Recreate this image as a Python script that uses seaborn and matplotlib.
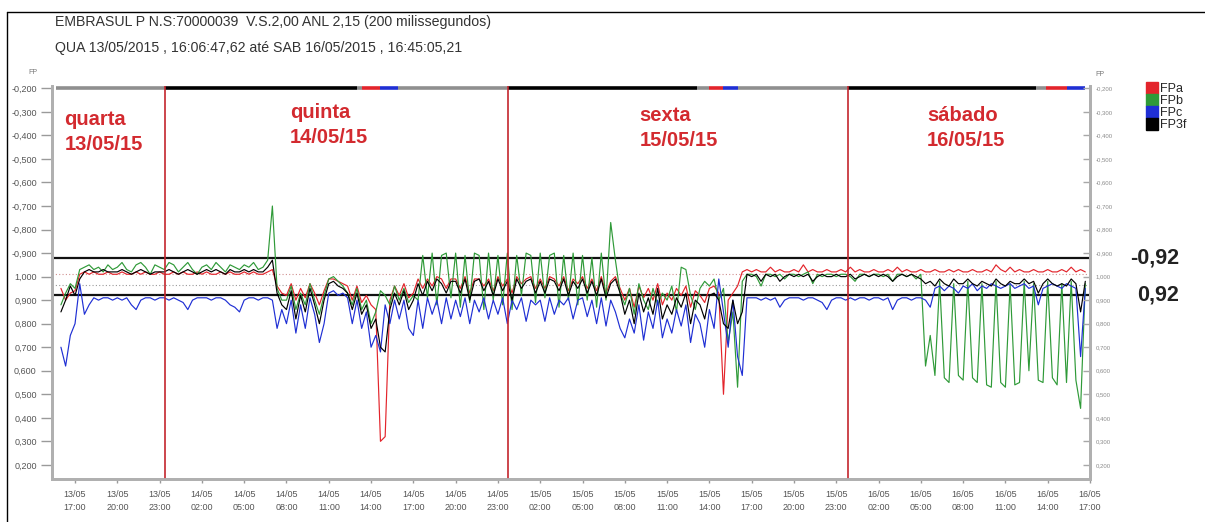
import numpy as np
import pandas as pd
import matplotlib
matplotlib.use("Agg")
import matplotlib.pyplot as plt
import matplotlib.dates as mdates
from matplotlib.lines import Line2D
import seaborn as sns

sns.set_theme(style="white")
plt.rcParams["font.family"] = ["Liberation Sans", "DejaVu Sans"]

# Records every 20 minutes from 13/05 16:00; one row = 3 hours (9 records)
START = "2015-05-13 16:00"
STEP = "20min"

# Power factor per phase (negative = capacitive / leading)
fpa = [
    0.95, 0.90, 0.93,
    0.94, -0.99, -0.98, -0.99, -0.98, -0.99, -0.99, -0.98, -0.99,
    -0.99, -0.98, -0.99, -0.99, -0.98, -0.99, -0.98, -0.99, -0.99,
    -0.98, -0.99, -0.99, -0.98, -0.99, -0.98, -0.99, -0.99, -0.98,
    -0.99, -0.98, -0.99, -0.99, -0.98, -0.99, -0.98, -0.99, -0.99,
    -0.98, -0.99, -0.98, -0.99, -0.99, -0.98, -0.97, 0.96, 0.93,
    0.92, 0.97, 0.90, 0.95, 0.91, 0.97, 0.93, 0.88, 0.94,
    0.99, 0.99, 0.98, 0.97, 0.96, 0.90, 0.96, 0.89, 0.92,
    0.88, 0.86, 0.30, 0.32, 0.90, 0.96, 0.92, 0.97, 0.91,
    0.93, 0.99, 0.95, 0.99, 0.96, 1.00, 0.99, 0.95, 0.99,
    0.99, 0.95, 1.00, 0.93, 0.99, 0.99, 0.96, 0.99, 0.94,
    1.00, 0.96, 0.99, 0.93, 1.00, 0.97, 0.99, 1.00, 0.95,
    0.99, 0.95, 1.00, 0.99, 0.96, 1.00, 0.94, 0.99, 0.97,
    1.00, 0.95, 0.99, 0.94, 1.00, 0.93, 0.98, 1.00, 0.95,
    0.90, 0.95, 0.87, 0.96, 0.91, 0.95, 0.90, 0.97, 0.88,
    0.93, 0.90, 0.95, 0.92, 0.96, 0.87, 0.94, 0.92, 0.89,
    0.95, 0.96, 0.93, 0.50, 0.90, 0.93, 0.96, -0.98, -0.97,
    -0.98, -0.97, -0.98, -0.98, -0.96, -0.98, -0.97, -0.98, -0.98,
    -0.97, -0.98, -0.95, -0.98, -0.97, -0.98, -0.98, -0.97, -0.98,
    -0.98, -0.97, -0.98, -0.96, -0.98, -0.97, -0.98, -0.98, -0.97,
    -0.98, -0.98, -0.97, -0.98, -0.96, -0.98, -0.97, -0.98, -0.98,
    -0.97, -0.98, -0.98, -0.97, -0.98, -0.98, -0.97, -0.98, -0.97,
    -0.98, -0.98, -0.97, -0.98, -0.98, -0.97, -0.98, -0.95, -0.97,
    -0.98, -0.96, -0.98, -0.97, -0.98, -0.98, -0.97, -0.98, -0.98,
    -0.97, -0.98, -0.98, -0.97, -0.98, -0.96, -0.98, -0.97, -0.98,
]

fpb = [
    0.88, 0.93, 0.97,
    0.95, -0.97, -0.96, -0.95, -0.97, -0.96, -0.98, -0.95, -0.97,
    -0.96, -0.94, -0.97, -0.98, -0.95, -0.94, -0.96, -0.99, -0.95,
    -0.96, -0.97, -0.94, -0.95, -0.98, -0.96, -0.94, -0.97, -0.99,
    -0.96, -0.95, -0.97, -0.94, -0.96, -0.98, -0.95, -0.96, -0.97,
    -0.95, -0.96, -0.94, -0.97, -0.96, -0.93, -0.70, 0.95, 0.90,
    0.90, 0.96, 0.86, 0.93, 0.88, 0.97, 0.90, 0.84, 0.92,
    0.99, 1.00, 0.98, 0.96, 0.93, 0.88, 0.95, 0.86, 0.90,
    0.80, 0.85, 0.94, 0.92, 0.88, 0.96, 0.90, 0.95, 0.89,
    0.92, 0.90, -0.91, 0.91, -0.90, 0.88, -0.91, -0.90, 0.91,
    -0.90, 0.87, -0.91, 0.89, -0.90, -0.91, 0.86, -0.90, 0.90,
    -0.91, 0.88, -0.90, 0.86, -0.91, 0.92, -0.90, -0.91, 0.89,
    -0.90, 0.91, -0.91, -0.90, 0.87, -0.91, 0.90, -0.90, 0.88,
    -0.91, 0.90, -0.92, 0.87, -0.90, 0.90, -0.77, -0.93, 0.93,
    0.88, 0.95, 0.84, 0.97, 0.90, 0.86, 0.95, 0.88, 0.93,
    0.90, 0.96, 0.85, -0.96, -0.97, 0.92, 0.86, 0.95, 0.98,
    0.96, 0.99, 0.90, 0.95, 0.72, 0.85, 0.53, 0.98, -0.99,
    -0.99, 1.00, 0.96, -0.99, -0.99, 1.00, -0.99, 0.99, -0.99,
    -0.99, 1.00, -0.99, -0.98, 0.97, -0.99, 1.00, -0.99, -0.99,
    1.00, -0.99, -0.99, 1.00, 0.98, -0.99, -0.99, 1.00, -0.99,
    -0.99, 1.00, -0.99, 0.98, -0.99, -0.99, 1.00, -0.99, 0.99,
    -0.99, 0.62, 0.75, 0.58, 0.98, 0.57, 0.55, 0.97, 0.58,
    0.56, 0.98, 0.57, 0.55, 0.97, 0.54, 0.53, 0.98, 0.55,
    0.53, 0.97, 0.54, 0.55, 0.98, 0.60, 0.97, 0.56, 0.55,
    0.98, 0.57, 0.54, 0.97, 0.55, 0.98, 0.56, 0.44, 0.97,
]

fpc = [
    0.70, 0.62, 0.75,
    0.80, 0.97, 0.84, 0.88, 0.91, 0.90, 0.91, 0.91, 0.90,
    0.91, 0.90, 0.91, 0.88, 0.86, 0.90, 0.91, 0.91, 0.90,
    0.91, 0.91, 0.90, 0.91, 0.90, 0.89, 0.86, 0.90, 0.91,
    0.91, 0.91, 0.90, 0.91, 0.91, 0.90, 0.88, 0.87, 0.85,
    0.90, 0.91, 0.91, 0.90, 0.91, 0.91, 0.90, 0.78, 0.86,
    0.80, 0.90, 0.76, 0.88, 0.78, 0.91, 0.84, 0.72, 0.80,
    0.93, 0.94, 0.92, 0.93, 0.91, 0.80, 0.90, 0.78, 0.85,
    0.70, 0.75, 0.68, 0.88, 0.80, 0.90, 0.82, 0.90, 0.78,
    0.75, 0.90, 0.78, 0.91, 0.84, 0.90, 0.80, 0.91, 0.82,
    0.90, 0.83, 0.91, 0.80, 0.90, 0.85, 0.91, 0.82, 0.90,
    0.84, 0.91, 0.80, 0.90, 0.86, 0.91, 0.81, 0.90, 0.88,
    0.90, 0.81, 0.91, 0.84, 0.90, 0.88, 0.91, 0.82, 0.90,
    0.91, 0.83, 0.90, 0.80, 0.91, 0.79, 0.90, 0.85, 0.78,
    0.74, 0.82, 0.76, 0.88, 0.73, 0.85, 0.78, 0.90, 0.74,
    0.82, 0.76, 0.86, 0.79, 0.88, 0.72, 0.84, 0.80, 0.70,
    0.86, 0.78, 0.99, 0.85, 0.70, 0.90, 0.66, 0.58, 0.91,
    0.91, 0.91, 0.90, 0.91, 0.90, 0.91, 0.87, 0.90, 0.91,
    0.91, 0.91, 0.90, 0.91, 0.91, 0.90, 0.89, 0.86, 0.90,
    0.91, 0.91, 0.90, 0.91, 0.90, 0.91, 0.91, 0.90, 0.91,
    0.91, 0.90, 0.91, 0.86, 0.90, 0.91, 0.91, 0.90, 0.91,
    0.91, 0.90, 0.87, 0.95, 0.96, 0.94, 0.96, 0.95, 0.93,
    0.96, 0.95, 0.97, 0.94, 0.96, 0.95, 0.97, 0.96, 0.95,
    0.96, 0.97, 0.95, 0.96, 0.97, 0.95, 0.96, 0.88, 0.95,
    0.96, 0.97, 0.96, 0.95, 0.97, 0.96, 0.95, 0.66, 0.95,
]

fp3f = [
    0.85, 0.90, 0.96,
    0.92, 0.99, -0.98, -0.97, -0.98, -0.98, -0.97, -0.98, -0.98,
    -0.98, -0.97, -0.98, -0.99, -0.98, -0.97, -0.98, -0.99, -0.98,
    -0.98, -0.98, -0.97, -0.98, -0.99, -0.98, -0.97, -0.98, -0.99,
    -0.98, -0.97, -0.98, -0.97, -0.98, -0.99, -0.97, -0.98, -0.98,
    -0.97, -0.98, -0.97, -0.98, -0.98, -0.96, -0.93, 0.93, 0.88,
    0.86, 0.94, 0.82, 0.92, 0.85, 0.95, 0.88, 0.80, 0.90,
    0.97, 0.98, 0.96, 0.95, 0.93, 0.86, 0.93, 0.84, 0.88,
    0.78, 0.82, 0.70, 0.68, 0.86, 0.93, 0.88, 0.94, 0.86,
    0.90, 0.97, 0.92, 0.98, 0.94, 0.99, 0.97, 0.93, 0.98,
    0.98, 0.93, 0.99, 0.90, 0.98, 0.99, 0.94, 0.98, 0.92,
    0.99, 0.94, 0.98, 0.90, 0.99, 0.95, 0.98, 0.99, 0.93,
    0.98, 0.93, 0.99, 0.98, 0.94, 0.99, 0.92, 0.98, 0.95,
    0.99, 0.93, 0.98, 0.92, 0.99, 0.91, 0.97, 0.99, 0.93,
    0.84, 0.90, 0.80, 0.93, 0.85, 0.91, 0.84, 0.95, 0.82,
    0.88, 0.84, 0.91, 0.87, 0.93, 0.80, 0.90, 0.88, 0.82,
    0.92, 0.93, 0.90, 0.80, 0.78, 0.90, 0.80, 0.85, -0.99,
    1.00, -0.99, 0.98, -0.99, 1.00, -0.99, 0.98, 1.00, -0.99,
    1.00, -0.99, 1.00, -0.99, 0.98, 1.00, -0.99, 1.00, 1.00,
    -0.99, 1.00, 1.00, -0.99, 0.99, 1.00, -0.99, 1.00, -0.99,
    1.00, -0.99, 1.00, 0.98, 1.00, -0.99, 1.00, -0.99, 1.00,
    0.99, 0.97, 0.98, 0.96, 0.99, 0.97, 0.96, 0.99, 0.97,
    0.97, 0.99, 0.97, 0.96, 0.98, 0.97, 0.96, 0.99, 0.97,
    0.96, 0.98, 0.97, 0.97, 0.99, 0.97, 0.98, 0.93, 0.97,
    0.99, 0.97, 0.96, 0.97, 0.96, 0.99, 0.97, 0.85, 0.98,
]

series_names = ["FPa", "FPb", "FPc", "FP3f"]
series_values = [fpa, fpb, fpc, fp3f]
palette = {"FPa": "#e3242b", "FPb": "#2f9a38", "FPc": "#1f2fd4", "FP3f": "#000000"}

# Status strip along the -0,200 limit: segment start, end and colour key
strip_start = ["2015-05-13 15:40", "2015-05-13 23:24", "2015-05-14 13:00", "2015-05-14 13:21",
               "2015-05-14 14:36", "2015-05-14 15:54", "2015-05-14 23:42", "2015-05-15 13:06",
               "2015-05-15 14:00", "2015-05-15 15:00", "2015-05-15 16:00", "2015-05-15 23:48",
               "2015-05-16 13:12", "2015-05-16 13:54", "2015-05-16 15:24"]
strip_end = strip_start[1:] + ["2015-05-16 16:40"]
strip_key = ["grey", "FP3f", "grey", "FPa", "FPc", "grey", "FP3f", "grey", "FPa", "FPc",
             "grey", "FP3f", "grey", "FPa", "FPc"]
strip_pf = -0.20

# Day separators and captions
day_breaks = ["2015-05-13 23:24", "2015-05-14 23:42", "2015-05-15 23:48"]
day_captions = ["quarta\n13/05/15", "quinta\n14/05/15", "sexta\n15/05/15", "sábado\n16/05/15"]
caption_xy = [(0.012, 0.940), (0.229, 0.958), (0.566, 0.950), (0.843, 0.950)]

limit_pf = [-0.92, 0.92]
limit_text = ["-0,92", "0,92"]
tick_pf = [0.2, 0.3, 0.4, 0.5, 0.6, 0.7, 0.8, 0.9, 1.0,
           -0.9, -0.8, -0.7, -0.6, -0.5, -0.4, -0.3, -0.2]


def pf_to_axis(p):
    """Lagging PF runs 0.2 -> 1.0 upwards, leading PF continues 1.0 -> -0.2 above it."""
    p = np.asarray(p, dtype=float)
    return np.where(p < 0, 2.0 + p, p)


def pf_label(p):
    return f"{p:.3f}".replace(".", ",")


frames = []
for name, vals in zip(series_names, series_values):
    t = pd.date_range(START, periods=len(vals), freq=STEP)
    frames.append(pd.DataFrame({"tempo": t, "pos": pf_to_axis(vals), "serie": name}))
df = pd.concat(frames, ignore_index=True)

W, H = 1205, 522
fig = plt.figure(figsize=(W / 100, H / 100), dpi=100)
ax = fig.add_axes([52 / W, 1 - 479 / H, (1090 - 52) / W, (479 - 86) / H])

# thresholds and reference band around unity
for p in limit_pf:
    ax.axhline(pf_to_axis(p), color="#111111", lw=1.6, zorder=1)
ax.axhline(pf_to_axis(-0.99), color="#d09090", lw=0.8, ls=(0, (1, 2)), zorder=1)
ax.axhline(pf_to_axis(0.965), color="#9a9a9a", lw=0.8, ls=(0, (1, 2)), zorder=1)

sns.lineplot(data=df, x="tempo", y="pos", hue="serie", hue_order=series_names,
             palette=palette, estimator=None, sort=False, linewidth=0.85,
             legend=False, ax=ax, zorder=2)

strip_colors = {"grey": "#8f8f8f", **palette}
ax.hlines([float(pf_to_axis(strip_pf))] * len(strip_start),
          pd.to_datetime(strip_start), pd.to_datetime(strip_end),
          colors=[strip_colors[k] for k in strip_key], lw=2.6, zorder=4, clip_on=False)

for d in day_breaks:
    ax.axvline(pd.Timestamp(d), color="#c4262e", lw=1.2, zorder=5)

for txt, (x, y) in zip(day_captions, caption_xy):
    ax.text(x, y, txt, transform=ax.transAxes, ha="left", va="top", color="#d32a2f",
            fontsize=14.5, fontweight="bold", linespacing=1.4)

ax.set_xlim(pd.Timestamp("2015-05-13 15:22"), pd.Timestamp("2015-05-16 17:00"))
ax.set_ylim(0.14, 1.81)

ytick_pos = pf_to_axis(tick_pf)
ax.set_yticks(ytick_pos)
ax.set_yticklabels([pf_label(p) for p in tick_pf])
ax.xaxis.set_major_locator(mdates.HourLocator(byhour=[2, 5, 8, 11, 14, 17, 20, 23]))
ax.xaxis.set_major_formatter(mdates.DateFormatter("%d/%m\n%H:%M"))
ax.set_xlabel("")
ax.set_ylabel("")

ax.tick_params(axis="y", which="major", length=8, width=1, color="#9a9a9a",
               labelsize=6.5, labelcolor="#555555", pad=3, left=True)
ax.tick_params(axis="x", which="major", length=3, width=1, color="#9a9a9a",
               labelsize=6.5, labelcolor="#555555", pad=5, bottom=True)
for lbl in ax.get_xticklabels():
    lbl.set_linespacing(1.6)

ax2 = ax.twinx()
ax2.set_ylim(ax.get_ylim())
ax2.set_yticks(ytick_pos)
ax2.set_yticklabels([pf_label(p) for p in tick_pf])
ax2.tick_params(axis="y", length=5, width=1, color="#a8a8a8", labelsize=4.3,
                labelcolor="#8a8a8a", pad=4, direction="in", right=True)

for a in (ax, ax2):
    for side in ("left", "bottom", "right"):
        a.spines[side].set_color("#b0b0b0")
        a.spines[side].set_linewidth(2)
    a.spines["top"].set_visible(False)

fig.text(33 / W, 1 - 73 / H, "FP", fontsize=5, color="#777777", ha="center", va="center")
fig.text(1100 / W, 1 - 75 / H, "FP", fontsize=5, color="#777777", ha="center", va="center")

for txt, p in zip(limit_text, limit_pf):
    y_fig = ax.transData.transform((0, pf_to_axis(p)))[1] / H
    fig.text(1179 / W, y_fig, txt, fontsize=15.5, fontweight="bold", color="#222222",
             ha="right", va="center")

handles = [Line2D([], [], marker="s", ls="none", markersize=8, color=palette[n]) for n in series_names]
fig.legend(handles, series_names, loc="upper left", bbox_to_anchor=(1146 / W, 1 - 83 / H),
           frameon=False, fontsize=9, handletextpad=0.15, labelspacing=0.0,
           borderaxespad=0, borderpad=0, handlelength=1.0)

fig.text(55 / W, 1 - 22 / H, "EMBRASUL P N.S:70000039  V.S.2,00 ANL 2,15 (200 milissegundos)",
         fontsize=10.2, color="#333333", ha="left", va="center")
fig.text(55 / W, 1 - 48 / H, "QUA 13/05/2015 , 16:06:47,62 até SAB 16/05/2015 , 16:45:05,21",
         fontsize=10.2, color="#333333", ha="left", va="center")

# outer frame (top and left edges)
fig.add_artist(Line2D([7 / W, 7 / W], [0, 1 - 12 / H], transform=fig.transFigure, color="black", lw=1))
fig.add_artist(Line2D([7 / W, 1], [1 - 12 / H, 1 - 12 / H], transform=fig.transFigure, color="black", lw=1))

fig.savefig("out.png", dpi=100, facecolor="white")
